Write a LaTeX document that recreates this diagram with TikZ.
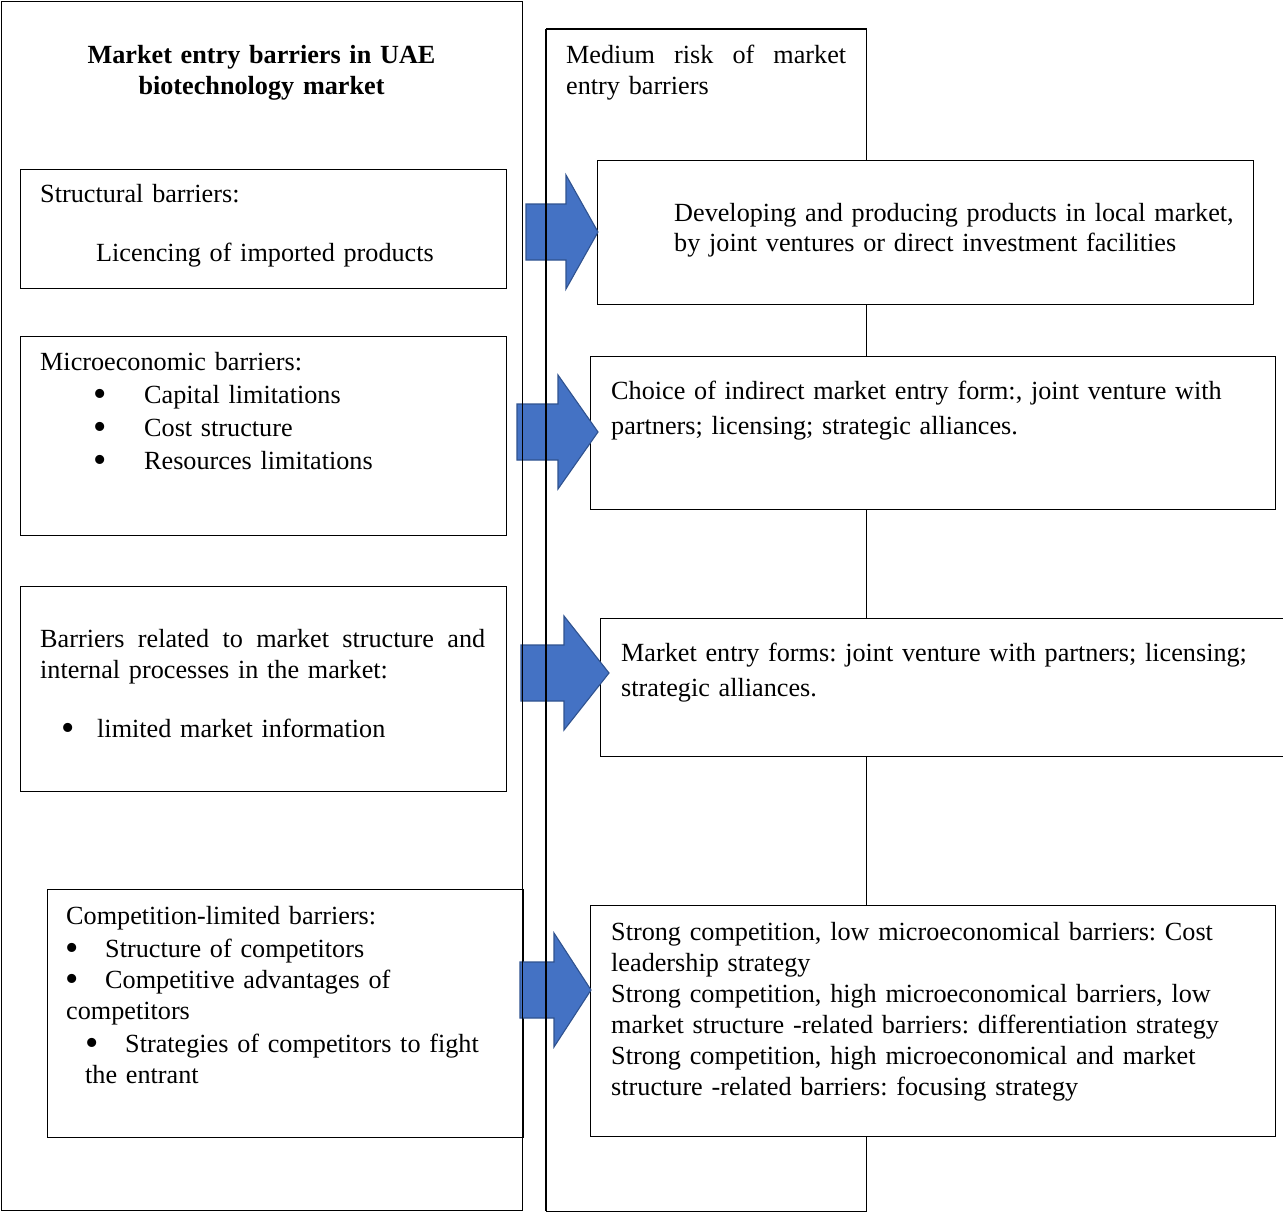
\documentclass[tikz,border=0pt]{standalone}
\usepackage{fontspec}
\setmainfont{Liberation Serif}
\definecolor{arrowfill}{RGB}{68,114,196}
\definecolor{arrowline}{RGB}{47,82,143}
\newcommand\boxat[5]{\node[box, minimum width={#4-#2}, minimum height={#5-#3}] (#1) at (#2,#3) {};}
% block arrow: shaft start, head base, tip x, mid y
\newcommand\blockarrow[5]{\filldraw[blockarrow] (#2,{#5-28}) -- (#3,{#5-28}) -- (#3,{#5-57}) -- (#4,#5)
  -- (#3,{#5+57}) -- (#3,{#5+28}) -- (#2,{#5+28}) -- cycle coordinate (#1) at (#4,#5);}
% list bullet: offset to bullet centre, then gap to the item text
\newcommand\bul[2]{\hspace*{#1pt}\makebox[0pt]{\raisebox{-3pt}[0pt][0pt]{\scalebox{1.45}{•}}}\hspace*{#2pt}}
\begin{document}
\frenchspacing
\begin{tikzpicture}[x=1pt,y=-1pt,
  box/.style={draw=black, line width=1.2pt, fill=white, inner sep=0pt, anchor=north west},
  frame/.style={line width=1.2pt, inner sep=0pt, anchor=north west},
  blockarrow/.style={fill=arrowfill, draw=arrowline, line width=1.1pt, line join=miter},
  txt/.style={inner sep=0pt, anchor=base west, text width=720pt, align=left,
    font=\fontsize{26.2}{31}\selectfont}]
\useasboundingbox (0,0) rectangle (1283,1212);
\fill[white] (0,0) rectangle (1283,1212);

% right-hand column frame (left edge redrawn above the arrows)
\node[frame, minimum width=319, minimum height=1181] (T) at (546,29) {};
\draw[line width=1.2pt] (T.north west) -- (T.north east) -- (T.south east) -- (T.south west);

% barrier boxes
\boxat{L1}{20}{169}{506}{288}
\boxat{L2}{20}{336}{506}{535}
\boxat{L3}{20}{586}{506}{791}
\boxat{L4}{47}{889}{523}{1137}

% strategy boxes
\boxat{R1}{597}{160}{1253}{304}
\boxat{R2}{590}{356}{1275}{509}
\boxat{R3}{600}{618}{1295}{756}
\boxat{R4}{590}{905}{1275}{1136}

% block arrows
\blockarrow{a1}{526}{566}{598}{232}
\blockarrow{a2}{517}{558}{598}{432}
\blockarrow{a3}{521}{564}{609}{673}
\blockarrow{a4}{520}{554}{591}{990}

% outer frames drawn over the arrows
\draw[line width=1.2pt] (T.south west) -- (T.north west);
\node[frame, draw, minimum width=521, minimum height=1209] (BL) at (1,1) {};

% titles
\node[txt, text width=500pt, align=center, anchor=base, font=\fontsize{26.2}{31}\selectfont\bfseries]
  (title) at (261.5,64) {Market entry barriers in UAE\\biotechnology market};
\node[txt] (risk) at (566,64) {\hbox to 280pt{Medium\hfill risk\hfill of\hfill market}\\entry barriers};

% barrier texts
\node[txt] (l1a) at (40,203) {Structural barriers:};
\node[txt] (l1b) at (96,261) {Licencing of imported products};
\node[txt] (l2) at (40,370) {Microeconomic barriers:\\[2pt]
  \bul{60}{44}Capital limitations\\[2pt]
  \bul{60}{44}Cost structure\\[2pt]
  \bul{60}{44}Resources limitations};
\node[txt] (l3) at (40,647) {\hbox to 445pt{Barriers\hfill related\hfill to\hfill market\hfill structure\hfill and}\\
  internal processes in the market:\\[28pt]
  \bul{28}{29}limited market information};
\node[txt] (l4) at (66,924) {Competition-limited barriers:\\[2pt]
  \bul{6}{33}Structure of competitors\\
  \bul{6}{33}Competitive advantages of\\
  competitors\\[2pt]
  \bul{26}{33}Strategies of competitors to fight\\
  \hspace*{19pt}the entrant};

% strategy texts
\node[txt] (r1) at (674,221) {Developing and producing products in local market,\\
  by joint ventures or direct investment facilities};
\node[txt] (r2) at (611,399) {Choice of indirect market entry form:, joint venture with\\[4pt]
  partners; licensing; strategic alliances.};
\node[txt] (r3) at (621,661) {Market entry forms: joint venture with partners; licensing;\\[4pt]
  strategic alliances.};
\node[txt] (r4) at (611,940) {Strong competition, low microeconomical barriers: Cost\\
  leadership strategy\\
  Strong competition, high microeconomical barriers, low\\
  market structure -related barriers: differentiation strategy\\
  Strong competition, high microeconomical and market\\
  structure -related barriers: focusing strategy};
\end{tikzpicture}
\end{document}
